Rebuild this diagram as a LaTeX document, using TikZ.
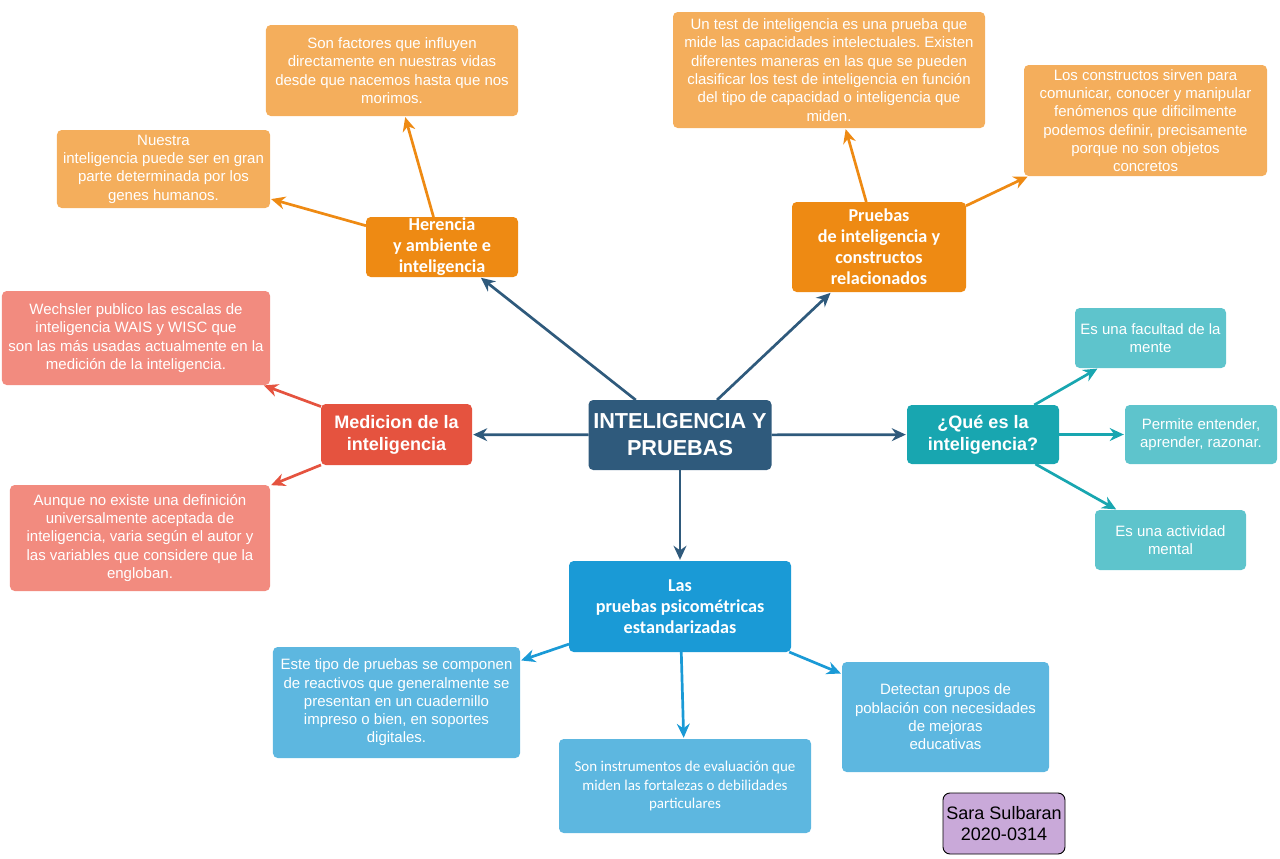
\documentclass[tikz,border=0pt]{standalone}
\usepackage{fontspec}
\setmainfont{Liberation Sans}
\newfontfamily\calibri{Carlito}
\usetikzlibrary{arrows.meta}
\frenchspacing
\definecolor{mapdark}{HTML}{2F5A7C}
\definecolor{orangeD}{HTML}{EE8A13}
\definecolor{orangeL}{HTML}{F4AE5C}
\definecolor{redD}{HTML}{E5533F}
\definecolor{redL}{HTML}{F28B7F}
\definecolor{tealD}{HTML}{18A6B0}
\definecolor{tealL}{HTML}{5EC4CC}
\definecolor{blueD}{HTML}{1A9AD6}
\definecolor{blueL}{HTML}{5DB7E0}
\definecolor{lilac}{HTML}{C9A9D9}
\begin{document}
\begin{tikzpicture}[x=0.03cm, y=-0.03cm, >={Stealth[length=12pt,width=11pt]},
    box/.style={rounded corners=4pt, align=center, inner sep=0pt, outer sep=0pt, text=white},
    soft/.style={box, font=\fontsize{12.8}{15.6}\selectfont},
    head/.style={box, font=\calibri\bfseries\fontsize{15.5}{17.9}\selectfont},
    heada/.style={box, font=\bfseries\fontsize{15.4}{18.7}\selectfont},
    arr/.style={->, line width=2.3pt, shorten >=1pt}]
    \useasboundingbox (0,0) rectangle (1280,858);

    % centre
    \node[box, fill=mapdark, font=\bfseries\fontsize{18.5}{23}\selectfont,
        minimum width=5.49cm, minimum height=2.1cm] (main) at (680,435) {INTELIGENCIA Y\\PRUEBAS};

    % herencia
    \node[head, fill=orangeD, minimum width=4.56cm, minimum height=1.8cm] (herencia) at (442,247) {Herencia\\y ambiente e\\inteligencia};
    \node[soft, fill=orangeL, minimum width=7.56cm, minimum height=2.73cm] (factores) at (392,70.5)
        {Son factores que influyen\\directamente en nuestras vidas\\desde que nacemos hasta que nos\\morimos.};
    \node[soft, fill=orangeL, minimum width=6.39cm, minimum height=2.34cm] (genes) at (163.5,169)
        {Nuestra\\inteligencia puede ser en gran\\parte determinada por los\\genes humanos.};

    % pruebas y constructos
    \node[head, fill=orangeD, minimum width=5.22cm, minimum height=2.7cm] (pruebas) at (879,247)
        {Pruebas\\de inteligencia y\\constructos\\relacionados};
    \node[soft, fill=orangeL, minimum width=9.36cm, minimum height=3.48cm] (test) at (829,70)
        {Un test de inteligencia es una prueba que\\mide las capacidades intelectuales. Existen\\diferentes maneras en las que se pueden\\clasificar los test de inteligencia en función\\del tipo de capacidad o inteligencia que\\miden.};
    \node[soft, fill=orangeL, minimum width=7.29cm, minimum height=3.33cm] (constructos) at (1145.5,120.5)
        {Los constructos sirven para\\comunicar, conocer y manipular\\fenómenos que dificilmente\\podemos definir, precisamente\\porque no son objetos\\concretos};

    % medicion
    \node[heada, fill=redD, minimum width=4.53cm, minimum height=1.83cm] (medicion) at (396.5,434.5) {Medicion de la\\inteligencia};
    \node[soft, fill=redL, minimum width=8.04cm, minimum height=2.82cm] (wechsler) at (136,338)
        {Wechsler publico las escalas de\\inteligencia WAIS y WISC que\\son las más usadas actualmente en la\\medición de la inteligencia.};
    \node[soft, fill=redL, minimum width=7.8cm, minimum height=3.18cm] (aunque) at (140,538)
        {Aunque no existe una definición\\universalmente aceptada de\\inteligencia, varia según el autor y\\las variables que considere que la\\engloban.};

    % que es
    \node[heada, fill=tealD, minimum width=4.56cm, minimum height=1.77cm] (quees) at (983,434.5) {¿Qué es la\\inteligencia?};
    \node[soft, fill=tealL, minimum width=4.53cm, minimum height=1.8cm] (facultad) at (1150.5,338) {Es una facultad de la\\mente};
    \node[soft, fill=tealL, minimum width=4.56cm, minimum height=1.77cm] (permite) at (1201,434.5) {Permite entender,\\aprender, razonar.};
    \node[soft, fill=tealL, minimum width=4.53cm, minimum height=1.8cm] (actividad) at (1170.5,540) {Es una actividad\\mental};

    % pruebas psicometricas
    \node[head, fill=blueD, minimum width=6.66cm, minimum height=2.73cm] (psico) at (680,606.5)
        {Las\\pruebas psicométricas\\estandarizadas};
    \node[soft, fill=blueL, minimum width=7.41cm, minimum height=3.33cm] (reactivos) at (396.5,702.5)
        {Este tipo de pruebas se componen\\de reactivos que generalmente se\\presentan en un cuadernillo\\impreso o bien, en soportes\\digitales.};
    \node[soft, fill=blueL, font=\calibri\fontsize{12.8}{15.7}\selectfont,
        minimum width=7.56cm, minimum height=2.82cm] (instrumentos) at (685,786)
        {Son instrumentos de evaluación que\\miden las fortalezas o debilidades\\particulares};
    \node[soft, fill=blueL, minimum width=6.21cm, minimum height=3.3cm] (detectan) at (945.5,717)
        {Detectan grupos de\\población con necesidades\\de mejoras\\educativas};

    \node[box, fill=lilac, draw=black, line width=0.8pt, text=black, rounded corners=6pt,
        font=\fontsize{15.4}{18}\selectfont, minimum width=3.66cm, minimum height=1.83cm] (autor) at (1004,823.5)
        {Sara Sulbaran\\2020-0314};

    \draw[arr, mapdark] (main) -- (herencia);
    \draw[arr, mapdark] (main) -- (pruebas);
    \draw[arr, mapdark] (main) -- (medicion);
    \draw[arr, mapdark] (main) -- (quees);
    \draw[arr, mapdark] (main) -- (psico);

    \draw[arr, orangeD] (herencia) -- (factores);
    \draw[arr, orangeD] (herencia) -- (genes);
    \draw[arr, orangeD] (pruebas) -- (test);
    \draw[arr, orangeD] (pruebas) -- (constructos);

    \draw[arr, redD] (medicion) -- (wechsler);
    \draw[arr, redD] (medicion) -- (aunque);

    \draw[arr, tealD] (quees) -- (facultad);
    \draw[arr, tealD] (quees) -- (permite);
    \draw[arr, tealD] (quees) -- (actividad);

    \draw[arr, blueD] (psico) -- (reactivos);
    \draw[arr, blueD] (psico) -- (instrumentos);
    \draw[arr, blueD] (psico) -- (detectan);
\end{tikzpicture}
\end{document}
